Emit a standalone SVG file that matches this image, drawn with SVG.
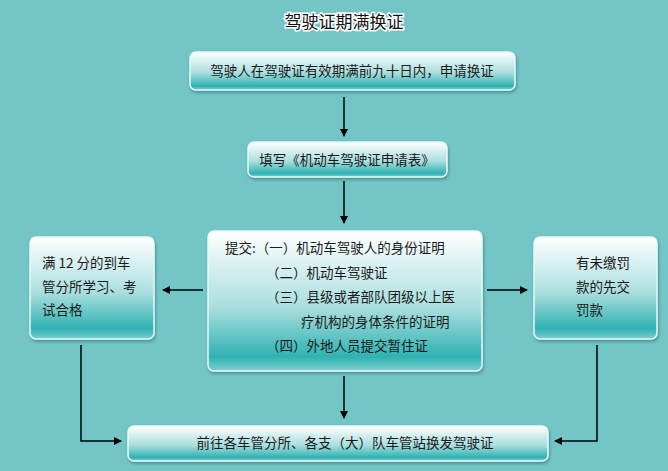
<svg xmlns="http://www.w3.org/2000/svg" width="668" height="471" viewBox="0 0 668 471">
<defs>
<linearGradient id="g" x1="0" y1="0" x2="0" y2="1">
<stop offset="0" stop-color="#ffffff"/>
<stop offset="0.55" stop-color="#a9dede"/>
<stop offset="0.9" stop-color="#2fb2b2"/>
<stop offset="1" stop-color="#7fd0d0"/>
</linearGradient>
<filter id="sh" x="-10%" y="-10%" width="120%" height="130%"><feDropShadow dx="1" dy="2" stdDeviation="1.5" flood-color="#2a6f6f" flood-opacity="0.6"/></filter>
<marker id="a" markerWidth="8" markerHeight="8" refX="7" refY="4" orient="auto" markerUnits="userSpaceOnUse"><path d="M0,0 L8,4 L0,8 z" fill="#000"/></marker>
</defs>
<style>
.b{fill:url(#g);stroke:#e8f7f7;stroke-width:1.5;filter:url(#sh)}
.t{font-family:"Noto Sans CJK SC","Noto Sans",sans-serif;font-size:13.5px;fill:#1a1a1a}
.c{stroke:#000;stroke-width:1.5;fill:none;marker-end:url(#a)}
</style>
<rect width="668" height="471" fill="#73c5c6"/>
<text x="344" y="28" text-anchor="middle" class="t" style="font-size:17px;fill:#111;stroke:#fff;stroke-width:3;paint-order:stroke">驾驶证期满换证</text>
<g id="n1"><rect class="b" x="190" y="52" width="325" height="38" rx="6"/><text class="t" x="352" y="76" text-anchor="middle">驾驶人在驾驶证有效期满前九十日内，申请换证</text></g>
<g id="n2"><rect class="b" x="248" y="142" width="199" height="35" rx="6"/><text class="t" x="347" y="165" text-anchor="middle">填写《机动车驾驶证申请表》</text></g>
<g id="n3"><rect class="b" x="208" y="231" width="274" height="140" rx="6"/>
<text class="t" x="225" y="253">提交:（一）机动车驾驶人的身份证明</text>
<text class="t" x="266" y="278">（二）机动车驾驶证</text>
<text class="t" x="266" y="302">（三）县级或者部队团级以上医</text>
<text class="t" x="301" y="327">疗机构的身体条件的证明</text>
<text class="t" x="266" y="351">（四）外地人员提交暂住证</text></g>
<g id="n4"><rect class="b" x="30" y="237" width="124" height="102" rx="6"/>
<text class="t" x="42" y="268">满 12 分的到车</text><text class="t" x="42" y="292">管分所学习、考</text><text class="t" x="42" y="315">试合格</text></g>
<g id="n5"><rect class="b" x="534" y="237" width="123" height="102" rx="6"/>
<text class="t" x="576" y="268">有未缴罚</text><text class="t" x="576" y="292">款的先交</text><text class="t" x="576" y="315">罚款</text></g>
<g id="n6"><rect class="b" x="128" y="426" width="420" height="35" rx="6"/><text class="t" x="345" y="448" text-anchor="middle">前往各车管分所、各支（大）队车管站换发驾驶证</text></g>
<g id="conn">
<line class="c" x1="344" y1="97" x2="344" y2="136"/>
<line class="c" x1="344" y1="181" x2="344" y2="223"/>
<line class="c" x1="203" y1="290" x2="163" y2="290"/>
<line class="c" x1="487" y1="290" x2="527" y2="290"/>
<line class="c" x1="344" y1="376" x2="344" y2="418"/>
<polyline class="c" points="81,345 81,441 121,441"/>
<polyline class="c" points="597,345 597,441 555,441"/>
</g>
</svg>
